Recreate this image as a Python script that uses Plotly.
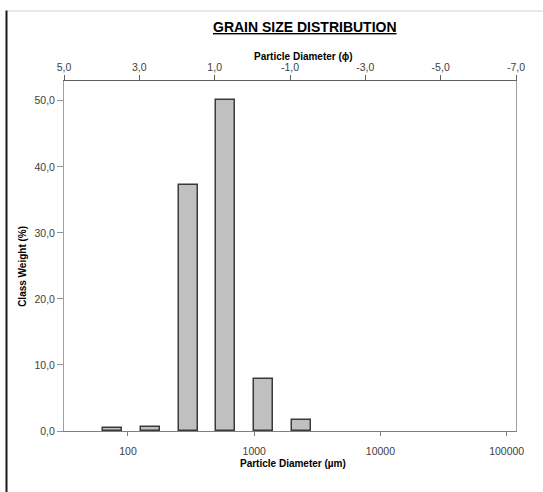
import plotly.graph_objects as go

# ---- data ----
phi_classes = [4, 3, 2, 1, 0, -1]          # class lower edge in phi units
class_weight = [0.5, 0.55, 37.2, 50.1, 7.8, 1.7]   # %
phi_ticks = [5, 3, 1, -1, -3, -5, -7]
phi_ticktext = ["5,0", "3,0", "1,0", "-1,0", "-3,0", "-5,0", "-7,0"]
um_ticks = [100, 1000, 10000, 100000]
um_ticktext = ["100", "1000", "10000", "100000"]
y_ticks = [0, 10, 20, 30, 40, 50]
y_ticktext = ["0,0", "10,0", "20,0", "30,0", "40,0", "50,0"]

FONT = "Liberation Sans, Arial, sans-serif"
TICKC = "#404040"

fig = go.Figure()
fig.add_trace(go.Bar(
    x=phi_classes, y=class_weight, xaxis="x2", yaxis="y",
    width=0.51, offset=-0.55,
    marker=dict(color="#c0c0c0", line=dict(color="#3a3a3a", width=1.5)),
    showlegend=False, hoverinfo="x+y",
))
# invisible helper trace so the log (µm) axis is drawn
fig.add_trace(go.Scatter(x=[um_ticks[0]], y=[0], xaxis="x", yaxis="y",
                         mode="markers", marker=dict(opacity=0),
                         showlegend=False, hoverinfo="skip"))

fig.update_layout(
    width=543, height=492,
    margin=dict(l=64, r=27, t=81, b=61),
    paper_bgcolor="white", plot_bgcolor="white",
    font=dict(family=FONT, size=10, color=TICKC),
    xaxis=dict(
        type="log", range=[1.493, 5.074],
        tickvals=um_ticks, ticktext=um_ticktext,
        ticks="outside", ticklen=4, tickcolor="#808080",
        showline=True, linecolor="#808080", linewidth=1,
        showgrid=False, zeroline=False, ticklabelstandoff=6,
        tickfont=dict(size=10.5, color=TICKC, family=FONT),
    ),
    xaxis2=dict(
        overlaying="x", side="top", anchor="y",
        range=[5, -7], tickvals=phi_ticks, ticktext=phi_ticktext,
        ticks="outside", ticklen=5, tickcolor="#606060",
        showline=True, linecolor="#606060", linewidth=1,
        showgrid=False, zeroline=False,
        tickfont=dict(size=10.5, color=TICKC, family=FONT),
    ),
    yaxis=dict(
        range=[0, 53], tickvals=y_ticks, ticktext=y_ticktext,
        ticks="outside", ticklen=6, tickcolor="#909090",
        showline=True, linecolor="#a0a0a0", linewidth=1, mirror=True,
        showgrid=False, zeroline=False,
        tickfont=dict(size=10.5, color=TICKC, family=FONT),
    ),
    bargap=0,
)

ann = [
    dict(text="<b><u>GRAIN SIZE DISTRIBUTION</u></b>", x=0.533, y=1.154,
         font=dict(size=14, color="#000000", family=FONT)),
    dict(text="<b>Particle Diameter (ϕ)</b>", x=0.53, y=1.07,
         font=dict(size=10, color="#000000", family=FONT)),
    dict(text="<b>Particle Diameter (µm)</b>", x=0.507, y=-0.092,
         font=dict(size=10, color="#000000", family=FONT)),
    dict(text="<b>Class Weight (%)</b>", x=-0.0907, y=0.469, textangle=-90,
         font=dict(size=10, color="#000000", family=FONT)),
]
for a in ann:
    a.update(xref="paper", yref="paper", xanchor="center", yanchor="middle",
             showarrow=False)
fig.update_layout(annotations=ann)

# page frame lines around the chart (as in the screenshot)
fig.update_layout(shapes=[
    dict(type="line", xref="paper", yref="paper",
         x0=(7 - 64) / 452, x1=(543 - 64) / 452, y0=(431 - 11) / 350, y1=(431 - 11) / 350,
         line=dict(color="#d0d0d0", width=1)),
    dict(type="line", xref="paper", yref="paper",
         x0=(6.5 - 64) / 452, x1=(6.5 - 64) / 452, y0=(431 - 10.5) / 350, y1=(431 - 492) / 350,
         line=dict(color="#1a1a1a", width=2)),
])

fig.write_html("out.html", config={"displayModeBar": False},
               post_script="document.body.style.margin='0';document.body.style.overflow='hidden';")
